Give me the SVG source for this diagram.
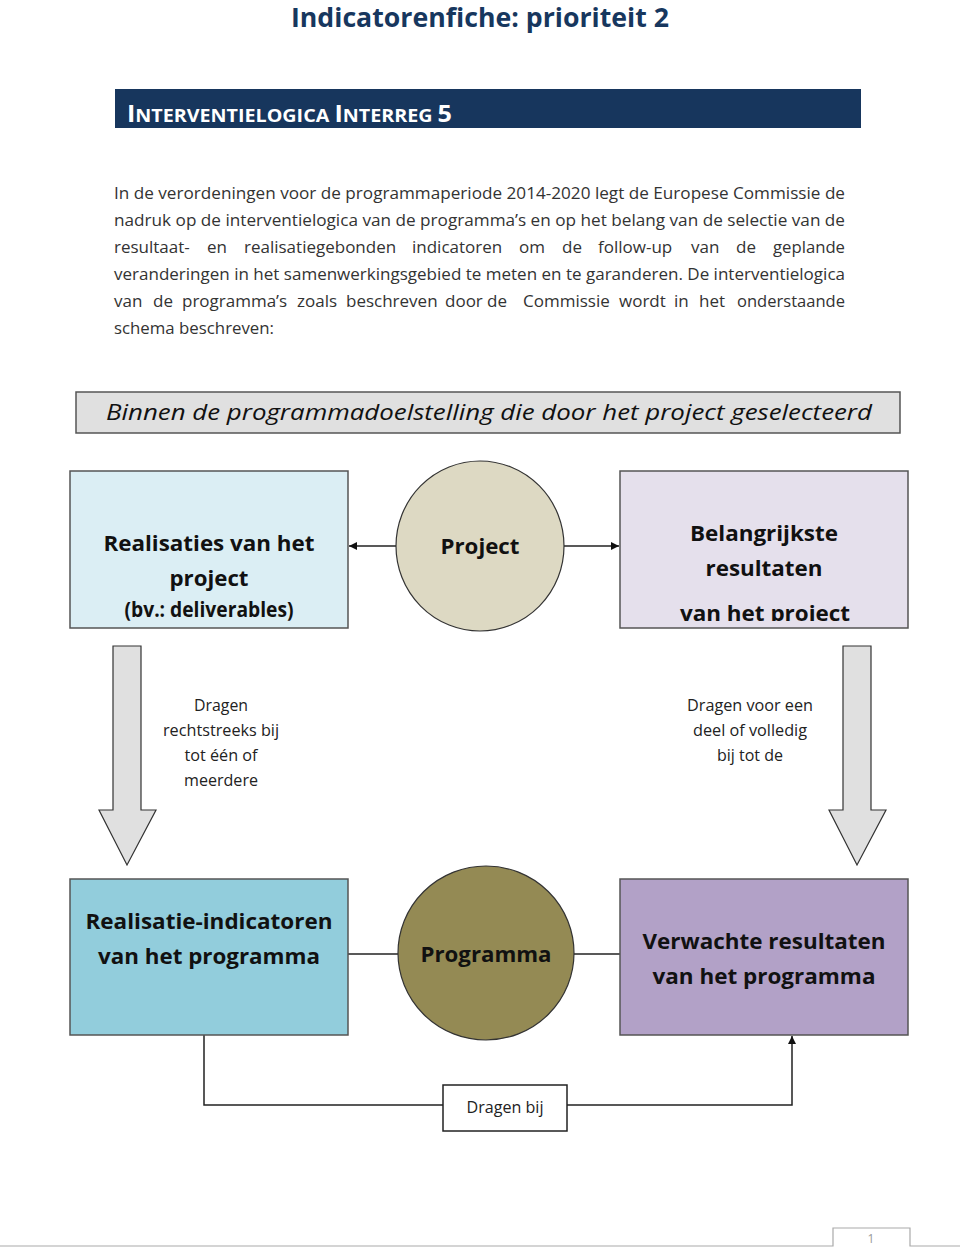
<svg xmlns="http://www.w3.org/2000/svg" width="960" height="1248" viewBox="0 0 960 1248">
<defs>
<style>
text{font-family:"Open Sans","Liberation Sans",sans-serif;}
.para{font-size:17px;fill:#333;}
.lbl{font-size:22px;font-weight:bold;fill:#111;text-anchor:middle;}
.sm{font-size:16px;fill:#222;text-anchor:middle;}
.box{stroke:#555;stroke-width:1.5;}
.conn{stroke:#222;stroke-width:1.5;fill:none;}
.blk{fill:#e0e0e0;stroke:#333;stroke-width:1.2;}
</style>
<marker id="ah" viewBox="0 0 10 10" refX="10" refY="5" markerWidth="8" markerHeight="8" markerUnits="userSpaceOnUse" orient="auto">
<path d="M0,0 L10,5 L0,10 z" fill="#111"/>
</marker>
<clipPath id="clipR"><rect x="620" y="471" width="288" height="150"/></clipPath>
</defs>
<rect width="960" height="1248" fill="#fff"/>

<g id="header">
<text x="480" y="27" text-anchor="middle" font-size="27" font-weight="bold" fill="#17375e" textLength="378" lengthAdjust="spacingAndGlyphs">Indicatorenfiche: prioriteit 2</text>
<rect x="115" y="89" width="746" height="39" fill="#17365d"/>
<text x="127" y="122" fill="#fff" font-weight="bold" textLength="325" lengthAdjust="spacingAndGlyphs"><tspan font-size="23">I</tspan><tspan font-size="18">NTERVENTIELOGICA </tspan><tspan font-size="23">I</tspan><tspan font-size="18">NTERREG </tspan><tspan font-size="23">5</tspan></text>
</g>

<g id="paragraph" class="para">
<text class="para" x="114" y="199" textLength="731" lengthAdjust="spacingAndGlyphs">In de verordeningen voor de programmaperiode 2014-2020 legt de Europese Commissie de</text>
<text class="para" x="114" y="226" textLength="731" lengthAdjust="spacingAndGlyphs">nadruk op de interventielogica van de programma’s en op het belang van de selectie van de</text>
<text class="para" y="253"><tspan x="114">resultaat-</tspan><tspan x="207">en</tspan><tspan x="244">realisatiegebonden</tspan><tspan x="412">indicatoren</tspan><tspan x="519">om</tspan><tspan x="562">de</tspan><tspan x="598">follow-up</tspan><tspan x="691">van</tspan><tspan x="736">de</tspan><tspan x="773" textLength="72" lengthAdjust="spacingAndGlyphs">geplande</tspan></text>
<text class="para" x="114" y="280" textLength="731" lengthAdjust="spacingAndGlyphs">veranderingen in het samenwerkingsgebied te meten en te garanderen. De interventielogica</text>
<text class="para" y="307"><tspan x="114">van</tspan><tspan x="153">de</tspan><tspan x="182">programma’s</tspan><tspan x="297">zoals</tspan><tspan x="346">beschreven</tspan><tspan x="445">door</tspan><tspan x="487">de</tspan><tspan x="523">Commissie</tspan><tspan x="619">wordt</tspan><tspan x="674">in</tspan><tspan x="699">het</tspan><tspan x="737" textLength="108" lengthAdjust="spacingAndGlyphs">onderstaande</tspan></text>
<text class="para" x="114" y="334" textLength="160" lengthAdjust="spacingAndGlyphs">schema beschreven:</text>
</g>

<g id="scope">
<rect x="76" y="392" width="824" height="41" fill="#e0e0e0" stroke="#555" stroke-width="1.5"/>
<text x="489" y="420" text-anchor="middle" font-size="22" font-style="italic" fill="#111" textLength="766" lengthAdjust="spacingAndGlyphs">Binnen de programmadoelstelling die door het project geselecteerd</text>
</g>

<g id="connectors">
<line class="conn" x1="396" y1="546" x2="349" y2="546" marker-end="url(#ah)"/>
<line class="conn" x1="564" y1="546" x2="619" y2="546" marker-end="url(#ah)"/>
<line class="conn" x1="348" y1="954" x2="398" y2="954"/>
<line class="conn" x1="574" y1="954" x2="620" y2="954"/>
<polyline class="conn" points="204,1035 204,1105 443,1105"/>
<polyline class="conn" points="567,1105 792,1105 792,1036" marker-end="url(#ah)"/>
<path class="blk" d="M113,646 H141 V810 H156 L127,865 L99,810 H113 Z"/>
<path class="blk" d="M843,646 H871 V810 H886 L857,865 L829,810 H843 Z"/>
</g>

<g id="realisaties">
<rect class="box" x="70" y="471" width="278" height="157" fill="#dbeef4"/>
<text class="lbl" x="209" y="551" textLength="211" lengthAdjust="spacingAndGlyphs">Realisaties van het</text>
<text class="lbl" x="209" y="586" textLength="79" lengthAdjust="spacingAndGlyphs">project</text>
<text class="lbl" x="209" y="617" font-size="18" textLength="169" lengthAdjust="spacingAndGlyphs">(bv.: deliverables)</text>
</g>

<g id="project">
<ellipse cx="480" cy="546" rx="84" ry="85" fill="#ddd9c3" stroke="#333" stroke-width="1.2"/>
<text class="lbl" x="480" y="554" textLength="79" lengthAdjust="spacingAndGlyphs">Project</text>
</g>

<g id="resultaten">
<rect class="box" x="620" y="471" width="288" height="157" fill="#e5e0ec"/>
<text class="lbl" x="764" y="541" textLength="148" lengthAdjust="spacingAndGlyphs">Belangrijkste</text>
<text class="lbl" x="764" y="576" textLength="117" lengthAdjust="spacingAndGlyphs">resultaten</text>
<text class="lbl" x="765" y="621" clip-path="url(#clipR)" textLength="170" lengthAdjust="spacingAndGlyphs">van het project</text>
</g>

<g id="label-left">
<text class="sm" x="221" y="711" textLength="54" lengthAdjust="spacingAndGlyphs">Dragen</text>
<text class="sm" x="221" y="736" textLength="116" lengthAdjust="spacingAndGlyphs">rechtstreeks bij</text>
<text class="sm" x="221" y="761" textLength="73" lengthAdjust="spacingAndGlyphs">tot één of</text>
<text class="sm" x="221" y="786" textLength="74" lengthAdjust="spacingAndGlyphs">meerdere</text>
</g>

<g id="label-right">
<text class="sm" x="750" y="711" textLength="126" lengthAdjust="spacingAndGlyphs">Dragen voor een</text>
<text class="sm" x="750" y="736" textLength="114" lengthAdjust="spacingAndGlyphs">deel of volledig</text>
<text class="sm" x="750" y="761" textLength="66" lengthAdjust="spacingAndGlyphs">bij tot de</text>
</g>

<g id="realisatie-indicatoren">
<rect class="box" x="70" y="879" width="278" height="156" fill="#92cddc"/>
<text class="lbl" x="209" y="929" textLength="247" lengthAdjust="spacingAndGlyphs">Realisatie-indicatoren</text>
<text class="lbl" x="209" y="964" textLength="222" lengthAdjust="spacingAndGlyphs">van het programma</text>
</g>

<g id="programma">
<ellipse cx="486" cy="953" rx="88" ry="87" fill="#948a54" stroke="#333" stroke-width="1.2"/>
<text class="lbl" x="486" y="962" textLength="131" lengthAdjust="spacingAndGlyphs">Programma</text>
</g>

<g id="verwachte-resultaten">
<rect class="box" x="620" y="879" width="288" height="156" fill="#b2a1c7"/>
<text class="lbl" x="764" y="949" textLength="243" lengthAdjust="spacingAndGlyphs">Verwachte resultaten</text>
<text class="lbl" x="764" y="984" textLength="223" lengthAdjust="spacingAndGlyphs">van het programma</text>
</g>

<g id="dragen-bij">
<rect x="443" y="1085" width="124" height="46" fill="#fff" stroke="#222" stroke-width="1.5"/>
<text class="sm" x="505" y="1113" textLength="77" lengthAdjust="spacingAndGlyphs">Dragen bij</text>
</g>

<g id="footer">
<polyline points="0,1246 833,1246 833,1228 910,1228 910,1246 960,1246" fill="none" stroke="#aaa" stroke-width="1.2"/>
<text x="871" y="1243" text-anchor="middle" font-size="12" fill="#999">1</text>
</g>
</svg>
